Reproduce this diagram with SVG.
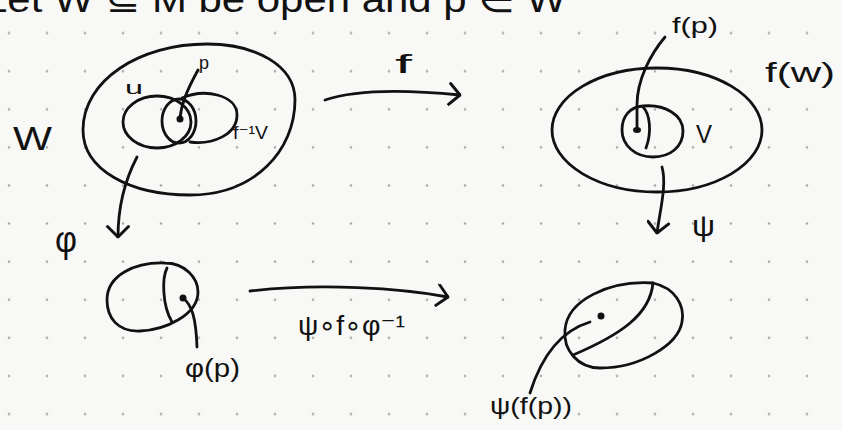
<svg xmlns="http://www.w3.org/2000/svg" width="842" height="430" viewBox="0 0 842 430">
<defs>
<pattern id="dots" x="-10" y="14" width="38" height="38.1" patternUnits="userSpaceOnUse">
<circle cx="19" cy="19.05" r="1.3" fill="#a8a8a8"/>
</pattern>
<marker id="vhead" viewBox="0 0 12 20" refX="11" refY="10" markerWidth="14" markerHeight="23.3" markerUnits="userSpaceOnUse" orient="auto">
<path d="M2,1 L11,10 L2,19" fill="none" stroke="#111" stroke-width="2.5" stroke-linecap="round" stroke-linejoin="round"/>
</marker>
</defs>
<style>
.ink{fill:none;stroke:#111;stroke-width:2.8;stroke-linecap:round;stroke-linejoin:round}
.lbl{font-family:"Liberation Sans","DejaVu Sans",sans-serif;fill:#111}
.dot{fill:#111}
</style>
<rect width="842" height="430" fill="#f8f8f6"/>
<rect width="842" height="430" fill="url(#dots)"/>
<text class="lbl" x="-16" y="12" font-size="36" textLength="582" lengthAdjust="spacingAndGlyphs">Let W ⊆ M be open and p ∈ W</text>
<g id="W">
<path class="ink" d="M207,44 C255,44 295,65 295,100 C295,150 255,195 190,195 C130,195 83,170 83,130 C83,80 140,44 207,44 Z"/>
<ellipse class="ink" cx="157" cy="122" rx="34" ry="26"/>
<ellipse class="ink" cx="179" cy="121" rx="17" ry="22"/>
<path class="ink" d="M182,98 C205,88 237,95 237,115 C237,135 212,145 190,142"/>
<circle class="dot" cx="180" cy="119" r="3.5"/>
<path class="ink" d="M180,119 C181,105 186,92 198,70"/>
<text class="lbl" x="13" y="150" font-size="34" textLength="39" lengthAdjust="spacingAndGlyphs">W</text>
<text class="lbl" x="125" y="94" font-size="19" textLength="18" lengthAdjust="spacingAndGlyphs">u</text>
<text class="lbl" x="199" y="69" font-size="18">p</text>
<text class="lbl" x="233" y="139" font-size="19" textLength="35" lengthAdjust="spacingAndGlyphs">f⁻¹V</text>
</g>
<g id="fW">
<ellipse class="ink" cx="657" cy="130" rx="105" ry="62"/>
<path class="ink" d="M643,106 C665,104 683,115 683,131 C683,147 670,157 653,157 C636,157 622,146 622,130 C622,116 630,107 643,106 Z"/>
<path class="ink" d="M643,107 C650,114 652,132 646,148"/>
<ellipse class="dot" cx="637" cy="130" rx="4" ry="3"/>
<path class="ink" d="M637,130 L637,105 C637,80 650,55 665,37"/>
<text class="lbl" x="672" y="33" font-size="22" textLength="46" lengthAdjust="spacingAndGlyphs">f(p)</text>
<text class="lbl" x="696" y="143" font-size="26" textLength="16" lengthAdjust="spacingAndGlyphs">V</text>
<text class="lbl" x="765" y="82" font-size="27" textLength="70" lengthAdjust="spacingAndGlyphs">f(w)</text>
</g>
<g id="phiW">
<path class="ink" d="M165,263 C185,263 198,278 198,292 C198,315 165,330 140,331 C118,332 107,318 107,300 C107,275 135,262 165,263 Z"/>
<path class="ink" d="M167,268 C162,278 162,305 172,322"/>
<circle class="dot" cx="183" cy="298" r="3.5"/>
<path class="ink" d="M183,298 C192,305 196,318 197,347"/>
<text class="lbl" x="185" y="377" font-size="26" textLength="55" lengthAdjust="spacingAndGlyphs">φ(p)</text>
</g>
<g id="psiV">
<path class="ink" d="M653,283 C675,288 685,305 682,322 C678,345 640,368 600,368 C578,368 563,350 565,330 C567,300 610,280 653,283 Z"/>
<path class="ink" d="M653,283 C650,315 620,335 573,355"/>
<circle class="dot" cx="601" cy="316" r="3.5"/>
<path class="ink" d="M590,322 C570,328 545,345 530,393"/>
<text class="lbl" x="490" y="414" font-size="24" textLength="82" lengthAdjust="spacingAndGlyphs">ψ(f(p))</text>
</g>
<g id="connectors">
<path class="ink" d="M325,100 C360,88 420,91 460,95" marker-end="url(#vhead)"/>
<text class="lbl" x="395" y="73" font-size="26" textLength="17" lengthAdjust="spacingAndGlyphs">f</text>
<path class="ink" d="M137,157 C125,180 118,205 118,237" marker-end="url(#vhead)"/>
<text class="lbl" x="55" y="252" font-size="36" textLength="22" lengthAdjust="spacingAndGlyphs">φ</text>
<path class="ink" d="M662,167 C667,185 660,210 657,233" marker-end="url(#vhead)"/>
<text class="lbl" x="692" y="236" font-size="30" textLength="23" lengthAdjust="spacingAndGlyphs">ψ</text>
<path class="ink" d="M250,291 C320,283 400,288 448,297" marker-end="url(#vhead)"/>
<text class="lbl" x="298" y="335" font-size="28" textLength="107" lengthAdjust="spacingAndGlyphs">ψ∘f∘φ⁻¹</text>
</g>
</svg>
